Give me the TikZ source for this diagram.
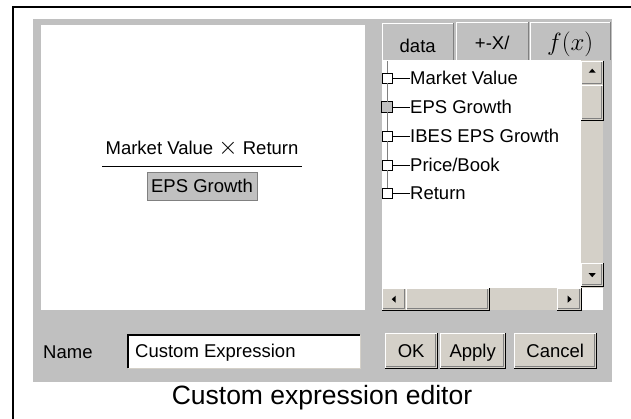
\documentclass[tikz,border=0pt]{standalone}
\usepackage{fontspec}
\setmainfont{Liberation Sans}
\usepackage{xcolor}
\definecolor{panelgray}{HTML}{C0C0C0}
\definecolor{btnface}{HTML}{D4D0C8}
\definecolor{edgegray}{HTML}{808080}
\tikzset{
  ui/.style={font=\fontsize{18.5}{20}\selectfont, inner sep=0pt, text height=13.2pt, text depth=0pt},
  raised/.style={fill=btnface, draw=none, inner sep=0pt, anchor=north west},
  tabbox/.style={fill=panelgray, draw=none, inner sep=0pt, anchor=north west},
  treebox/.style={draw=black, fill=white, line width=0.8pt, minimum size=10pt, inner sep=0pt},
  tip/.style={fill=black, draw=none},
}

\begin{document}
\begin{tikzpicture}[x=1pt,y=-1pt]
\useasboundingbox (0,0) rectangle (631,418);
% outer frame, cut at right and bottom
\draw [black, line width=2pt] (13,420) -- (13,7) -- (633,7);
% gray dialog panel
\fill [panelgray] (33,19) rectangle (612,382);
% expression area
\fill [white] (41,25) rectangle (365,310);
\node [ui] (num) at (202,148) {Market Value {\fontsize{24}{24}\selectfont$\times$} Return};
\coordinate (fracl) at (102,166);
\coordinate (fracr) at (302,166);
\draw [black, line width=1pt] (fracl) -- (fracr);
\node [ui, fill=panelgray, draw=edgegray, line width=0.5pt, minimum width=110pt, minimum height=28pt] (den) at (202,186) {EPS Growth};

% tabs
\node [tabbox, minimum width=71pt, minimum height=37pt] (tdata) at (382,23) {};
\node [tabbox, minimum width=72pt, minimum height=38pt] (tops) at (456,22) {};
\node [tabbox, minimum width=80pt, minimum height=38pt] (tfx) at (530,22) {};
\foreach \t in {tdata,tops,tfx} {
  \draw [white, line width=1pt] (\t.south west) -- (\t.north west) -- (\t.north east);
  \draw [edgegray, line width=1pt] (\t.north east) -- (\t.south east);
}
\node [ui] at ([yshift=-4]tdata.center) {data};
\node [ui] at ([yshift=-2]tops.center) {+-X/};
\node [inner sep=0pt, font=\fontsize{24}{26}\selectfont] at ([yshift=-3]tfx.center) {$f(x)$};

% list area
\fill [white] (382,60) rectangle (603,310);
\coordinate (treetop) at (387,61);
\foreach \i/\y/\lbl in {1/78/{Market Value},2/107/{EPS Growth},3/136/{IBES EPS Growth},4/165/{Price/Book},5/193/{Return}} {
  \node [treebox] (sq\i) at (387,\y) {};
  \node [ui, anchor=west] (it\i) at (410,\y) {\lbl};
  \draw [black, line width=0.6pt] (sq\i.east) -- (it\i.west);
}
\fill [panelgray] (sq2.south west) rectangle (sq2.north east);
\draw [black, line width=0.8pt] (sq2.south west) rectangle (sq2.north east);
\draw [edgegray, line width=0.6pt] (treetop) -- (sq1.north);
\foreach \a/\b in {1/2,2/3,3/4,4/5} {
  \draw [edgegray, line width=0.6pt] (sq\a.south) -- (sq\b.north);
}

% scroll bars
\fill [btnface] (581,60) rectangle (603,288);
\fill [btnface] (382,288) rectangle (581,310);
\node [raised, minimum width=22pt, minimum height=24pt] (upbtn) at (581,61) {};
\node [raised, minimum width=22pt, minimum height=35pt] (vthumb) at (581,85) {};
\node [raised, minimum width=22pt, minimum height=23pt] (downbtn) at (581,263) {};
\node [raised, minimum width=24pt, minimum height=22pt] (leftbtn) at (382,288) {};
\node [raised, minimum width=83pt, minimum height=22pt] (hthumb) at (406,288) {};
\node [raised, minimum width=24pt, minimum height=22pt] (rightbtn) at (557,288) {};
\foreach \b in {upbtn,vthumb,downbtn,leftbtn,hthumb,rightbtn} {
  \draw [white, line width=1pt] (\b.south west) -- (\b.north west) -- (\b.north east);
  \draw [edgegray, line width=1pt] ([shift={(1,-1.5)}]\b.south west) -- ([shift={(-1.5,-1.5)}]\b.south east) -- ([shift={(-1.5,1)}]\b.north east);
  \draw [black, line width=1.2pt] (\b.south west) -- (\b.south east) -- (\b.north east);
}
\fill [tip] ([yshift=2]upbtn.center) ++(-3.5,1.5) -- ++(7,0) -- ++(-3.5,-4) -- cycle;
\fill [tip] ([yshift=0]downbtn.center) ++(-3.5,-1.5) -- ++(7,0) -- ++(-3.5,4) -- cycle;
\fill [tip] (leftbtn.center) ++(1.5,-3.5) -- ++(0,7) -- ++(-4,-3.5) -- cycle;
\fill [tip] (rightbtn.center) ++(-1.5,-3.5) -- ++(0,7) -- ++(4,-3.5) -- cycle;

% name row
\node [ui, anchor=west] (namelbl) at (43,352) {Name};
\node [fill=white, draw=none, inner sep=0pt, minimum width=232pt, minimum height=33pt, anchor=north west] (namefld) at (128,335) {};
\draw [black, line width=1.5pt] (namefld.south west) -- (namefld.north west) -- (namefld.north east);
\draw [btnface, line width=1pt] (namefld.south west) -- (namefld.south east) -- (namefld.north east);
\node [ui, anchor=west] (nametxt) at (135,351) {Custom Expression};

% buttons
\node [raised, minimum width=52pt, minimum height=35pt] (okbtn) at (385,333) {};
\node [raised, minimum width=65pt, minimum height=35pt] (applybtn) at (440,333) {};
\node [raised, minimum width=82pt, minimum height=35pt] (cancelbtn) at (514,333) {};
\foreach \b in {okbtn,applybtn,cancelbtn} {
  \draw [white, line width=1pt] (\b.south west) -- (\b.north west) -- (\b.north east);
  \draw [edgegray, line width=1pt] ([shift={(1,-2)}]\b.south west) -- ([shift={(-2,-2)}]\b.south east) -- ([shift={(-2,1)}]\b.north east);
  \draw [black, line width=1.5pt] (\b.south west) -- (\b.south east) -- (\b.north east);
}
\node [ui] at (okbtn.center) {OK};
\node [ui] at (applybtn.center) {Apply};
\node [ui] at (cancelbtn.center) {Cancel};

% caption
\node [inner sep=0pt, font=\fontsize{26.5}{28}\selectfont] (caption) at (322,398) {Custom expression editor};
\end{tikzpicture}
\end{document}
